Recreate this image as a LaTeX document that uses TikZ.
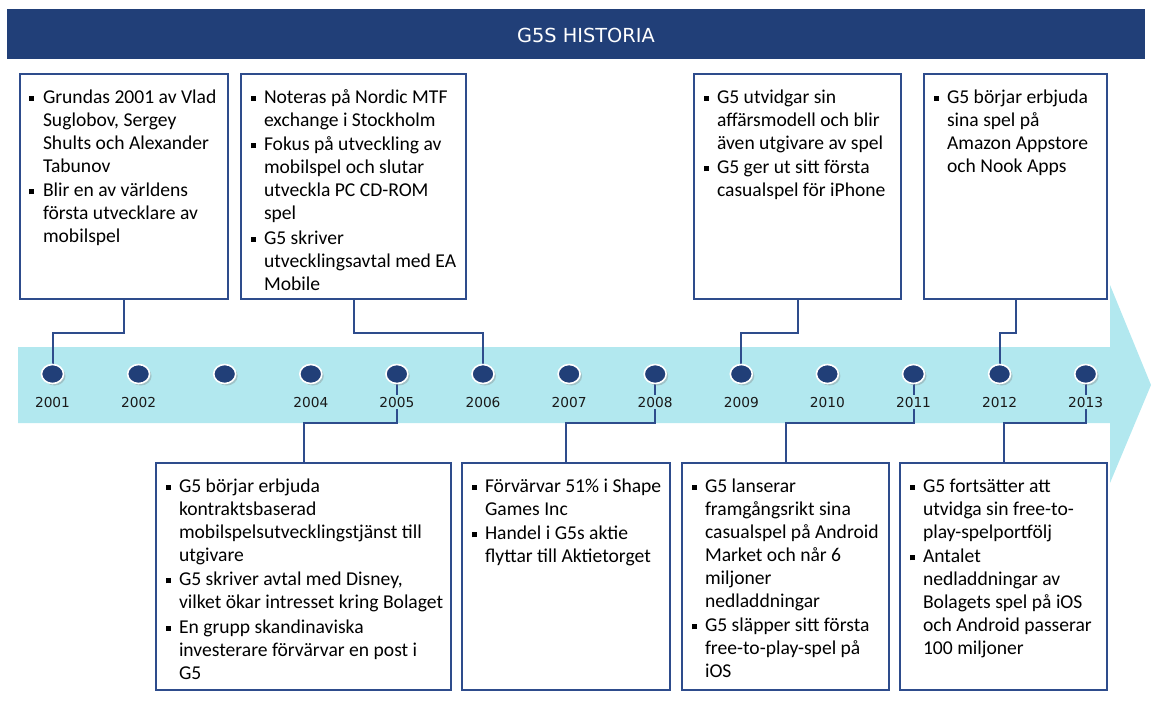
\documentclass[tikz,border=0pt]{standalone}
\usepackage{fontspec}
\setmainfont{Carlito}
\newfontfamily\yearfont{DejaVu Sans}
\usetikzlibrary{shapes.geometric, shadows, backgrounds}

\definecolor{headblue}{HTML}{213F78}
\definecolor{bandcyan}{HTML}{B2E8EF}
\definecolor{dotblue}{HTML}{213F78}
\definecolor{linkblue}{HTML}{2E4C8C}

\newdimen\pu \pu=0.75pt
% one bullet point, lines broken by hand
\newcommand{\itm}[1]{\par\noindent\makebox[23\pu][l]{\hspace{9.5\pu}\rule[0.28ex]{5\pu}{5\pu}}%
  \begin{tabular}[t]{@{}l@{}}#1\end{tabular}}
% text area of an event box: width, height, items
\newcommand{\evtext}[3]{\parbox[c][#2\pu][t]{#1\pu}{\vspace{13.5\pu}#3}}

\tikzset{
  evt/.style={draw=linkblue, line width=1.5pt, fill=white, anchor=north west,
              inner sep=0pt, font=\fontsize{14.7pt}{17.25pt}\selectfont},
  yeardot/.style={ellipse, fill=dotblue, draw=white, line width=1.2pt,
              minimum width=22\pu, minimum height=19\pu, inner sep=0pt,
              drop shadow={shadow xshift=1.5pt, shadow yshift=-1.5pt, opacity=0.35}},
  yearlabel/.style={font=\yearfont\fontsize{10.3pt}{12pt}\selectfont,
              fill=bandcyan, inner sep=1pt, text=black!90},
  link/.style={draw=linkblue, line width=1.5pt},
}

\begin{document}
\begin{tikzpicture}[x=0.75pt, y=-0.75pt]

\useasboundingbox (0,0) rectangle (1152,717);

% ── header ──────────────────────────────────────────────────────────────
\node[fill=headblue, anchor=north west, minimum width=1138\pu, minimum height=50\pu,
      inner sep=0pt] (head) at (7,9) {};
\node[text=white, font=\yearfont\fontsize{14.5pt}{16pt}\selectfont] (title) at (586,35)
  {G5S HISTORIA};

% ── year dots and labels ────────────────────────────────────────────────
\foreach \i in {0,...,12}
  \node[yeardot] (d\i) at ({52.5+86.1*\i},374) {};
\foreach \i/\yr in {0/2001,1/2002,3/2004,4/2005,5/2006,6/2007,7/2008,
                    8/2009,9/2010,10/2011,11/2012,12/2013}
  \node[yearlabel] (y\i) at ({52.5+86.1*\i},402) {\yr};

% ── upper boxes ─────────────────────────────────────────────────────────
\node[evt] (b1) at (19,73) {\evtext{208}{225}{%
  \itm{Grundas 2001 av Vlad\\Suglobov, Sergey\\Shults och Alexander\\Tabunov}%
  \itm{Blir en av världens\\första utvecklare av\\mobilspel}}};
\node[evt] (b2) at (240,73) {\evtext{225}{225}{%
  \itm{Noteras på Nordic MTF\\exchange i Stockholm}%
  \itm{Fokus på utveckling av\\mobilspel och slutar\\utveckla PC CD-ROM\\spel}%
  \itm{G5 skriver\\utvecklingsavtal med EA\\Mobile}}};
\node[evt] (b3) at (693,73) {\evtext{207}{225}{%
  \itm{G5 utvidgar sin\\affärsmodell och blir\\även utgivare av spel}%
  \itm{G5 ger ut sitt första\\casualspel för iPhone}}};
\node[evt] (b4) at (923,73) {\evtext{183}{225}{%
  \itm{G5 börjar erbjuda\\sina spel på\\Amazon Appstore\\och Nook Apps}}};

% ── lower boxes ─────────────────────────────────────────────────────────
\node[evt] (b5) at (155,462) {\evtext{295}{227}{%
  \itm{G5 börjar erbjuda\\kontraktsbaserad\\mobilspelsutvecklingstjänst till\\utgivare}%
  \itm{G5 skriver avtal med Disney,\\vilket ökar intresset kring Bolaget}%
  \itm{En grupp skandinaviska\\investerare förvärvar en post i\\G5}}};
\node[evt] (b6) at (461,462) {\evtext{208}{227}{%
  \itm{Förvärvar 51\% i Shape\\Games Inc}%
  \itm{Handel i G5s aktie\\flyttar till Aktietorget}}};
\node[evt] (b7) at (681,462) {\evtext{207}{227}{%
  \itm{G5 lanserar\\framgångsrikt sina\\casualspel på Android\\Market och når 6\\miljoner\\nedladdningar}%
  \itm{G5 släpper sitt första\\free-to-play-spel på\\iOS}}};
\node[evt] (b8) at (899,462) {\evtext{207}{227}{%
  \itm{G5 fortsätter att\\utvidga sin free-to-\\play-spelportfölj}%
  \itm{Antalet\\nedladdningar av\\Bolagets spel på iOS\\och Android passerar\\100 miljoner}}};

% ── band arrow and connectors ───────────────────────────────────────────
\begin{scope}[on background layer]
  \fill[bandcyan] (18,347) -- (1110,347) -- (1110,285) -- (1151,385)
    -- (1110,483) -- (1110,423) -- (18,423) -- cycle;
  \draw[link] (b1.south) -- ++(0,33) -| (d0.north);
  \draw[link] (b2.south) -- ++(0,33) -| (d5.north);
  \draw[link] (b3.south) -- ++(0,33) -| (d8.north);
  \draw[link] (b4.south) -- ++(0,33) -| (d11.north);
  \draw[link] (b5.north) -- ++(0,-39) -| (d4.south);
  \draw[link] (b6.north) -- ++(0,-39) -| (d7.south);
  \draw[link] (b7.north) -- ++(0,-39) -| (d10.south);
  \draw[link] (b8.north) -- ++(0,-39) -| (d12.south);
\end{scope}

\end{tikzpicture}
\end{document}
